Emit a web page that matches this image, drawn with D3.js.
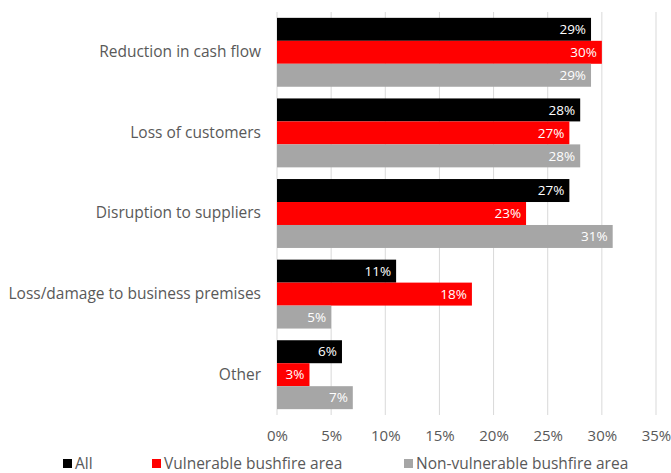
<!DOCTYPE html>
<html>
<head>
<meta charset="utf-8">
<script src="https://cdn.jsdelivr.net/npm/d3@7"></script>
<style>
  html, body { margin: 0; padding: 0; background: #fff; }
  svg text { font-family: "Open Sans", "Noto Sans", sans-serif; }
</style>
</head>
<body>
<svg id="chart" width="671" height="473"></svg>
<script>
// Impacts reported by businesses, by bushfire exposure
const categories = [
  "Reduction in cash flow",
  "Loss of customers",
  "Disruption to suppliers",
  "Loss/damage to business premises",
  "Other"
];
const seriesNames = ["All", "Vulnerable bushfire area", "Non-vulnerable bushfire area"];
const seriesColors = ["#000000", "#ff0000", "#a6a6a6"];
const allValues = [29, 28, 27, 11, 6];
const vulnerableValues = [30, 27, 23, 18, 3];
const nonVulnerableValues = [29, 28, 31, 5, 7];
const tickValues = [0, 5, 10, 15, 20, 25, 30, 35];

const seriesValues = [allValues, vulnerableValues, nonVulnerableValues];

const svg = d3.select("#chart");
const margin = { left: 277, top: 12 };

const x = d3.scaleLinear()
  .domain([0, 35])
  .range([margin.left, 656]);

const y = d3.scaleBand()
  .domain(categories)
  .range([margin.top, 415])
  .paddingInner(0.145)
  .paddingOuter(0.0725);

const ySeries = d3.scaleBand()
  .domain(seriesNames)
  .range([0, y.bandwidth()]);

// Vertical gridlines
svg.append("g")
  .selectAll("line")
  .data(tickValues)
  .join("line")
  .attr("x1", d => x(d)).attr("x2", d => x(d))
  .attr("y1", margin.top).attr("y2", 415)
  .attr("stroke", "#d9d9d9")
  .attr("stroke-width", 1);

// X axis tick labels
const xAxis = d3.axisBottom(x)
  .tickValues(tickValues)
  .tickFormat(d => d + "%")
  .tickSize(0)
  .tickPadding(0);
const gx = svg.append("g")
  .attr("transform", "translate(0,430)")
  .call(xAxis);
gx.select(".domain").remove();
gx.selectAll("text")
  .attr("fill", "#595959")
  .attr("font-size", 15)
  .attr("dy", "0.71em");

// Category labels
const yAxis = d3.axisLeft(y).tickSize(0).tickPadding(16);
const gy = svg.append("g")
  .attr("transform", `translate(${margin.left},0)`)
  .call(yAxis);
gy.select(".domain").remove();
gy.selectAll("text")
  .attr("fill", "#595959")
  .attr("font-size", 15.5);

// Bars
const rows = [];
categories.forEach((c, i) => {
  seriesNames.forEach((s, j) => {
    rows.push({ category: c, series: s, value: seriesValues[j][i], color: seriesColors[j] });
  });
});

const bars = svg.append("g");
bars.selectAll("rect")
  .data(rows)
  .join("rect")
  .attr("x", x(0))
  .attr("y", d => y(d.category) + ySeries(d.series))
  .attr("width", d => x(d.value) - x(0))
  .attr("height", ySeries.bandwidth())
  .attr("fill", d => d.color);

// Value labels inside bar ends
bars.selectAll("text")
  .data(rows)
  .join("text")
  .attr("x", d => x(d.value) - 5)
  .attr("y", d => y(d.category) + ySeries(d.series) + ySeries.bandwidth() / 2)
  .attr("dy", "0.35em")
  .attr("text-anchor", "end")
  .attr("fill", "#ffffff")
  .attr("font-size", 13.5)
  .text(d => d.value + "%");

// Legend
const legendX = [63, 152, 404];
const legend = svg.append("g").selectAll("g")
  .data(seriesNames)
  .join("g")
  .attr("transform", (d, i) => `translate(${legendX[i]},459)`);
legend.append("rect")
  .attr("width", 9).attr("height", 9)
  .attr("fill", (d, i) => seriesColors[i]);
legend.append("text")
  .attr("x", 12)
  .attr("y", 5)
  .attr("dy", "0.35em")
  .attr("fill", "#595959")
  .attr("font-size", 15.5)
  .text(d => d);
</script>
</body>
</html>
